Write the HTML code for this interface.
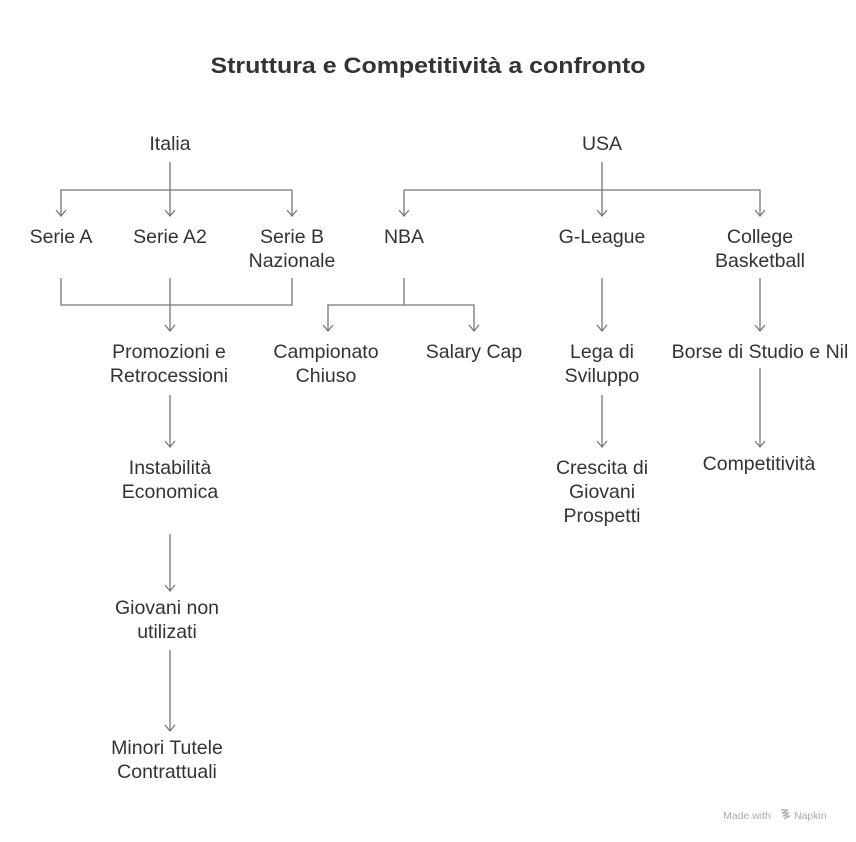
<!DOCTYPE html>
<html><head><meta charset="utf-8"><style>
html,body{margin:0;padding:0;background:#fff;}
svg{display:block;}
text{font-family:"Liberation Sans",Arial,sans-serif;fill:#333;}
.t{font-size:19.5px;text-anchor:middle;}
.l{stroke:#777;stroke-width:1.3;fill:none;}
</style></head><body>
<svg width="856" height="842" viewBox="0 0 856 842" xmlns="http://www.w3.org/2000/svg">
<text x="428" y="73" font-size="22" font-weight="bold" text-anchor="middle" textLength="435" lengthAdjust="spacingAndGlyphs" fill="#444">Struttura e Competitività a confronto</text>

<g class="l">
<path d="M170 162V216M61 216V190H292V216"/>
<path d="M61 278V305H292V278M170 278V331"/>
<path d="M170 395V447M170 534V591M170 650V731"/>
<path d="M602 162V216M404 216V190H760V216"/>
<path d="M404 278V305M328 331V305H474V331"/>
<path d="M602 278V331M602 395V447M760 278V331M760 368V447"/>
<path d="M56 210L61 216L66 210M165 210L170 216L175 210M287 210L292 216L297 210M399 210L404 216L409 210M597 210L602 216L607 210M755 210L760 216L765 210"/>
<path d="M165 325L170 331L175 325M323 325L328 331L333 325M469 325L474 331L479 325M597 325L602 331L607 325M755 325L760 331L765 325"/>
<path d="M165 441L170 447L175 441M597 441L602 447L607 441M755 441L760 447L765 441M165 585L170 591L175 585M165 725L170 731L175 725"/>
</g>

<text class="t" x="170" y="150">Italia</text>
<text class="t" x="602" y="150">USA</text>
<text class="t" x="61" y="243">Serie A</text>
<text class="t" x="170" y="243">Serie A2</text>
<text class="t" x="292" y="243">Serie B</text>
<text class="t" x="292" y="267">Nazionale</text>
<text class="t" x="404" y="243">NBA</text>
<text class="t" x="602" y="243">G-League</text>
<text class="t" x="760" y="243">College</text>
<text class="t" x="760" y="267">Basketball</text>
<text class="t" x="169" y="358">Promozioni e</text>
<text class="t" x="169" y="382">Retrocessioni</text>
<text class="t" x="326" y="358">Campionato</text>
<text class="t" x="326" y="382">Chiuso</text>
<text class="t" x="474" y="358">Salary Cap</text>
<text class="t" x="602" y="358">Lega di</text>
<text class="t" x="602" y="382">Sviluppo</text>
<text class="t" x="760" y="358">Borse di Studio e Nil</text>
<text class="t" x="170" y="474">Instabilità</text>
<text class="t" x="170" y="498">Economica</text>
<text class="t" x="602" y="474">Crescita di</text>
<text class="t" x="602" y="498">Giovani</text>
<text class="t" x="602" y="522">Prospetti</text>
<text class="t" x="759" y="470">Competitività</text>
<text class="t" x="167" y="614">Giovani non</text>
<text class="t" x="167" y="638">utilizati</text>
<text class="t" x="167" y="754">Minori Tutele</text>
<text class="t" x="167" y="778">Contrattuali</text>

<text x="723" y="819" font-size="10.5" style="fill:#aaa">Made with</text>
<path d="M781 810h7l-6 3h7l-6 3h7l-6 3" stroke="#aaa" stroke-width="1.2" fill="none"/>
<text x="794" y="819" font-size="10.5" style="fill:#aaa">Napkin</text>
</svg>
</body></html>
